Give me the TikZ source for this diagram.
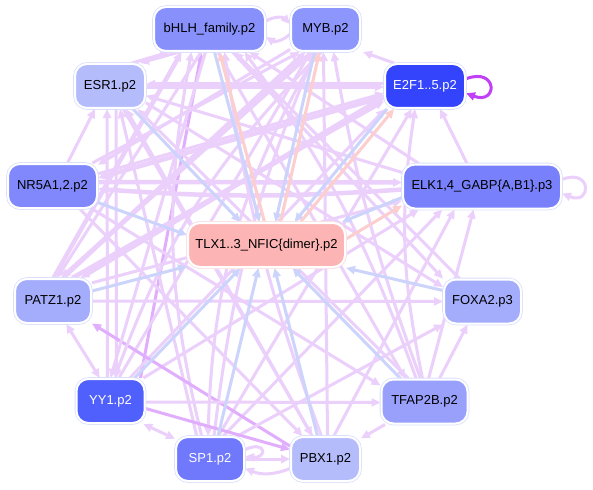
\documentclass[tikz,border=0pt]{standalone}
\usepackage{fontspec}
\setmainfont{Liberation Sans}
\usetikzlibrary{arrows.meta,backgrounds}
\definecolor{cbhlh}{RGB}{136,144,252}
\definecolor{cmyb}{RGB}{140,150,252}
\definecolor{cesr}{RGB}{180,188,252}
\definecolor{ce2f}{RGB}{52,68,252}
\definecolor{cnr}{RGB}{128,136,252}
\definecolor{celk}{RGB}{120,128,252}
\definecolor{ctlx}{RGB}{252,180,180}
\definecolor{cpatz}{RGB}{164,172,252}
\definecolor{cfoxa}{RGB}{164,172,252}
\definecolor{cyy}{RGB}{80,96,252}
\definecolor{ctfap}{RGB}{152,160,252}
\definecolor{csp}{RGB}{112,120,252}
\definecolor{cpbx}{RGB}{180,188,252}
\definecolor{nodeedge}{RGB}{218,224,252}
\definecolor{lav}{RGB}{236,208,252}
\definecolor{lavd}{RGB}{224,174,252}
\definecolor{eblue}{RGB}{204,212,252}
\definecolor{epink}{RGB}{252,206,206}
\definecolor{loopc}{RGB}{192,64,248}
\begin{document}
\begin{tikzpicture}[x=1pt,y=-1pt,
  >={Triangle[length=9pt,width=8pt]},
  nd/.style={rounded corners=12pt, minimum height=44pt, inner sep=0pt,
    draw=white, line width=2pt, preaction={draw=nodeedge, line width=3.6pt},
    font=\fontsize{13pt}{15pt}\selectfont, text=black},
  lv/.style={draw=lav, line width=3pt, ->},
  lvT/.style={draw=lav, line width=4.5pt, ->},
  lvd/.style={draw=lavd, line width=3pt, ->},
  bl/.style={draw=eblue, line width=3pt, ->},
  pk/.style={draw=epink, line width=3pt, ->},
  bi/.style={<->}]
\useasboundingbox (0,0) rectangle (593,489);
% nodes
\node[nd, fill=cbhlh, minimum width=111pt] (bhlh) at (209.5,29) {bHLH\_family.p2};
\node[nd, fill=cmyb, minimum width=69pt] (myb) at (325.5,29) {MYB.p2};
\node[nd, fill=cesr, minimum width=70pt] (esr) at (110,86) {ESR1.p2};
\node[nd, fill=ce2f, minimum width=80pt, text=white] (e2f) at (425,86) {E2F1..5.p2};
\node[nd, fill=cnr, minimum width=89pt] (nr) at (52.5,186) {NR5A1,2.p2};
\node[nd, fill=celk, minimum width=158pt] (elk) at (482,186.5) {ELK1,4\_GABP\{A,B1\}.p3};
\node[nd, fill=ctlx, minimum width=157pt, preaction={draw={rgb,255:red,252;green,226;blue,226}, line width=3.6pt}] (tlx) at (266.5,245) {TLX1..3\_NFIC\{dimer\}.p2};
\node[nd, fill=cpatz, minimum width=76pt] (patz) at (53,301) {PATZ1.p2};
\node[nd, fill=cfoxa, minimum width=77pt] (foxa) at (482.5,301.5) {FOXA2.p3};
\node[nd, fill=cyy, minimum width=68pt, text=white] (yy) at (110.5,401) {YY1.p2};
\node[nd, fill=ctfap, minimum width=86pt] (tfap) at (424.5,401.5) {TFAP2B.p2};
\node[nd, fill=csp, minimum width=68pt, text=white] (sp) at (210,459) {SP1.p2};
\node[nd, fill=cpbx, minimum width=69pt] (pbx) at (325.5,459) {PBX1.p2};
\begin{scope}[on background layer]
\fill[white] (0,0) rectangle (593,489);
% ---- lavender edges ----
\draw[lv] (bhlh.8) to[bend left=40] (myb.172);
\draw[lv] (myb.188) to[bend left=40] (bhlh.-8);
\draw[lv] ([xshift=-30pt]bhlh.south) -- ([xshift=30pt]esr.north);
\draw[lv] ([xshift=22pt]esr.north) -- ([xshift=-40pt]bhlh.south);
\draw[lvT] ([yshift=-1pt]patz.north) -- ([xshift=-28pt]bhlh.south);
\draw[lvd] ([xshift=30pt]yy.north) -- ([xshift=-8pt]bhlh.south);
\draw[lv] (sp.110) to[bend left=12] ([xshift=-18pt]bhlh.south);
\draw[lv] (foxa.135) -- ([xshift=25pt]bhlh.south);
\draw[lv] (tfap.110) to[bend right=8] ([xshift=35pt]bhlh.south);
\draw[lv] (elk.160) -- (bhlh.-30);
\draw[lv] (pbx.100) to[bend left=6] ([xshift=15pt]bhlh.south);
\draw[lv] ([xshift=10pt]e2f.north west) -- ([xshift=2pt]myb.south east);
\draw[lvT] ([xshift=10pt]patz.north) -- ([xshift=-20pt]myb.south);
\draw[lv] (yy.70) -- ([xshift=-15pt]myb.south);
\draw[lv] (sp.80) to[bend left=8] ([xshift=-10pt]myb.south);
\draw[lv] (tfap.100) to[bend left=5] ([xshift=8pt]myb.south);
\draw[lv] (pbx.85) -- ([xshift=-2pt]myb.south);
\draw[lv] (nr.30) -- ([xshift=-26pt]myb.south);
\draw[lv] ([xshift=15pt]nr.north) -- ([xshift=-15pt]esr.south);
\draw[lv] ([xshift=-3pt]yy.north) -- ([xshift=-3pt]esr.south);
\draw[lv] ([xshift=6pt]esr.south) -- ([xshift=6pt]yy.north);
\draw[lv] (sp.120) -- ([xshift=10pt]esr.south);
\draw[lv] (pbx.120) -- ([xshift=16pt]esr.south);
\draw[lv] ([yshift=2pt]e2f.west) -- ([yshift=2pt]esr.east);
\draw[lv] (elk.170) -- (esr.-15);
\draw[lv] (tfap.125) -- (esr.-40);
\draw[lvT] ([yshift=-1pt]esr.east) -- ([yshift=-1pt]e2f.west);
\draw[lv] (nr.15) -- (e2f.190);
\draw[lvT] (patz.50) -- (e2f.200);
\draw[lv] ([xshift=-15pt]elk.north) -- ([xshift=15pt]e2f.south);
\draw[lv] (sp.70) -- (e2f.-120);
\draw[lv] (yy.50) -- (e2f.-150);
\draw[lv] (tfap.95) to[bend left=10] ([xshift=-10pt]e2f.south);
\draw[lvT] ([yshift=-3pt]elk.west) to[bend left=4] ([yshift=-3pt]nr.east);
\draw[lvT] (e2f.195) -- (nr.10);
\draw[lv] (myb.-150) -- (nr.25);
\draw[lvT] ([yshift=4pt]nr.east) -- ([yshift=4pt]elk.west);
\draw[lv] (yy.35) -- (elk.-160);
\draw[lv] (sp.60) -- (elk.-150);
\draw[lv] (pbx.70) -- (elk.-140);
\draw[lv] (patz.25) -- (elk.-170);
\draw[lv] (tfap.80) -- (elk.-110);
\draw[lv,bi] (patz.-60) -- (yy.115);
\draw[lvd] (pbx.160) -- (patz.-30);
\draw[lvT] (myb.-120) -- (patz.70);
\draw[lvT] (e2f.-165) -- (patz.40);
\draw[lv] (bhlh.-110) -- (patz.80);
\draw[lv] (patz) -- (foxa);
\draw[lv] ([xshift=15pt]tfap.north) -- ([xshift=-15pt]foxa.south);
\draw[lv] (sp.40) -- (foxa.-150);
\draw[lv] (bhlh.-45) -- (foxa.150);
\draw[lv] (esr.-25) -- (foxa.160);
\draw[lv] (myb.-100) to[bend right=12] (yy.80);
\draw[lv] (bhlh.-100) -- (yy.90);
\draw[lv] ([yshift=-1pt]yy.east) -- ([yshift=-1pt]tfap.west);
\draw[lv] (nr.-30) -- (tfap.160);
\draw[lv] (bhlh.-70) -- (tfap.130);
\draw[lv,bi] (yy.-35) -- (sp.150);
\draw[lv] (myb.-110) to[bend right=14] (sp.95);
\draw[lv] (sp) -- (pbx);
\draw[lv] (pbx.195) to[bend left=22] (sp.-15);
\draw[lv] (sp.15) .. controls +(22,-10) and +(22,2) .. (sp.4);
\draw[lvd] (yy.-12) -- (pbx.165);
\draw[lv] (tfap) -- (pbx);
\draw[lv] (nr.-40) -- (pbx.135);
\draw[lv] (esr.-60) -- (pbx.120);
% self loops
\draw[lv] (elk.5) .. controls +(30,-12) and +(30,12) .. (elk.-5);
\draw[draw=loopc, line width=3pt, ->] (e2f.10) .. controls +(32,-12) and +(32,12) .. (e2f.-10);
% ---- blue / pink edges to and from TLX ----
\draw[bl] ([xshift=23pt]esr.south) -- ([xshift=-26pt]tlx.north);
\draw[bl] (nr.-20) -- ([yshift=10pt]tlx.west);
\draw[bl] ([yshift=10pt]patz.east) -- (tlx.195);
\draw[bl] ([xshift=24pt]yy.north) -- ([xshift=-26pt]tlx.south);
\draw[bl] ([xshift=8pt]sp.north) -- ([xshift=-8pt]tlx.south);
\draw[bl] ([xshift=-8pt]pbx.north) -- ([xshift=8pt]tlx.south);
\draw[bl] ([xshift=-24pt]tfap.north) -- ([xshift=26pt]tlx.south);
\draw[bl] ([yshift=11pt]foxa.west) -- (tlx.south east);
\draw[bl] ([yshift=-11pt]elk.west) -- ([xshift=-4pt]tlx.north east);
\draw[pk] ([yshift=6pt]tlx.east) -- ([yshift=-19pt]elk.west);
\draw[bl] ([xshift=5pt]bhlh.south) -- ([xshift=-7pt]tlx.north);
\draw[pk] ([xshift=-2pt]tlx.north) -- ([xshift=10pt]bhlh.south);
\draw[bl] ([xshift=-11pt]myb.south) -- ([xshift=9pt]tlx.north);
\draw[pk] ([xshift=14pt]tlx.north) -- ([xshift=-6pt]myb.south);
\draw[bl] ([xshift=-38pt]e2f.south) -- ([xshift=28pt]tlx.north);
\draw[pk] ([xshift=34pt]tlx.north) -- ([xshift=-31pt]e2f.south);
\end{scope}
\end{tikzpicture}
\end{document}
